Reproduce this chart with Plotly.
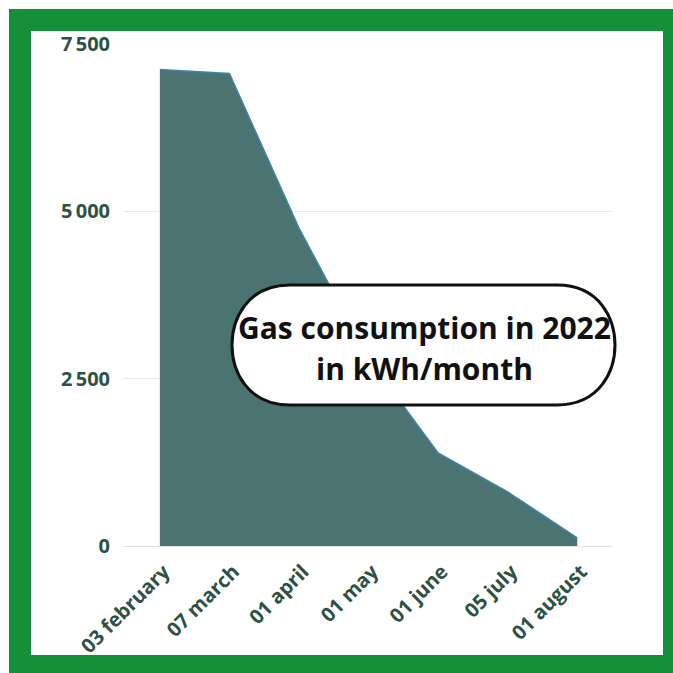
import plotly.graph_objects as go

# Monthly gas readings for 2022
dates = ["03 february", "07 march", "01 april", "01 may", "01 june", "05 july", "01 august"]
consumption_kwh = [7120, 7060, 4750, 2800, 1390, 810, 120]

y_ticks = [0, 2500, 5000, 7500]
y_tick_labels = ["0", "2\u2009500", "5\u2009000", "7\u2009500"]

W, H = 673, 673
ML, MR, MT, MB = 123, 61, 44, 127
PW, PH = W - ML - MR, H - MT - MB

TEXT_COLOR = "#2d5243"
FONT = "Open Sans"


def px(x):
    return (x - ML) / PW


def py(y):
    return (H - MB - y) / PH


fig = go.Figure()
fig.add_trace(go.Scatter(
    x=dates,
    y=consumption_kwh,
    mode="lines",
    fill="tozeroy",
    fillcolor="#4a7371",
    line=dict(color="#3f86ad", width=1.5),
    hoverinfo="x+y",
))

shapes = []
# green frame around the card
for x0, y0, x1, y1 in [(9, 9, 680, 31), (9, 655, 680, 680), (9, 9, 31, 680), (663, 9, 680, 680)]:
    shapes.append(dict(type="rect", xref="paper", yref="paper",
                       x0=px(x0), x1=px(x1), y0=py(y1), y1=py(y0),
                       fillcolor="#15903a", line=dict(width=0), layer="below"))

# rounded title badge
bx0, bx1, by0, by1, r = 232, 615, 285, 405, 58
path = (
    f"M {px(bx0 + r)},{py(by0)} L {px(bx1 - r)},{py(by0)} "
    f"C {px(bx1 - r * 0.25)},{py(by0)} {px(bx1)},{py(by0 + r * 0.6)} {px(bx1)},{py((by0 + by1) / 2)} "
    f"C {px(bx1)},{py(by1 - r * 0.6)} {px(bx1 - r * 0.25)},{py(by1)} {px(bx1 - r)},{py(by1)} "
    f"L {px(bx0 + r)},{py(by1)} "
    f"C {px(bx0 + r * 0.25)},{py(by1)} {px(bx0)},{py(by1 - r * 0.6)} {px(bx0)},{py((by0 + by1) / 2)} "
    f"C {px(bx0)},{py(by0 + r * 0.6)} {px(bx0 + r * 0.25)},{py(by0)} {px(bx0 + r)},{py(by0)} Z"
)
shapes.append(dict(type="path", xref="paper", yref="paper", path=path,
                   fillcolor="white", line=dict(color="#111111", width=3), layer="above"))

annotations = [
    dict(text="<b>Gas consumption in 2022</b>", x=px(424), y=py(328), xref="paper", yref="paper",
         showarrow=False, font=dict(family=FONT, size=30, color="#111111")),
    dict(text="<b>in kWh/month</b>", x=px(424), y=py(368), xref="paper", yref="paper",
         showarrow=False, font=dict(family=FONT, size=30, color="#111111")),
]

fig.update_layout(
    width=W, height=H,
    margin=dict(l=ML, r=MR, t=MT, b=MB),
    paper_bgcolor="white",
    plot_bgcolor="rgba(0,0,0,0)",
    showlegend=False,
    shapes=shapes,
    annotations=annotations,
    xaxis=dict(
        type="category",
        range=[-0.53, 6.5],
        automargin=False,
        showgrid=False,
        showline=False,
        zeroline=False,
        tickangle=-45,
        ticklabelstandoff=9,
        ticklabelshift=4,
        tickfont=dict(family=FONT, size=20, color=TEXT_COLOR, weight="bold"),
    ),
    yaxis=dict(
        range=[0, 7500],
        automargin=False,
        tickvals=y_ticks,
        ticktext=y_tick_labels,
        showgrid=True,
        gridcolor="#e9e9e9",
        gridwidth=1,
        zeroline=True,
        zerolinecolor="#e3e3e3",
        zerolinewidth=1,
        showline=False,
        ticklabelstandoff=12,
        tickfont=dict(family=FONT, size=20, color=TEXT_COLOR, weight="bold"),
    ),
)

fig.write_html("out.html")
